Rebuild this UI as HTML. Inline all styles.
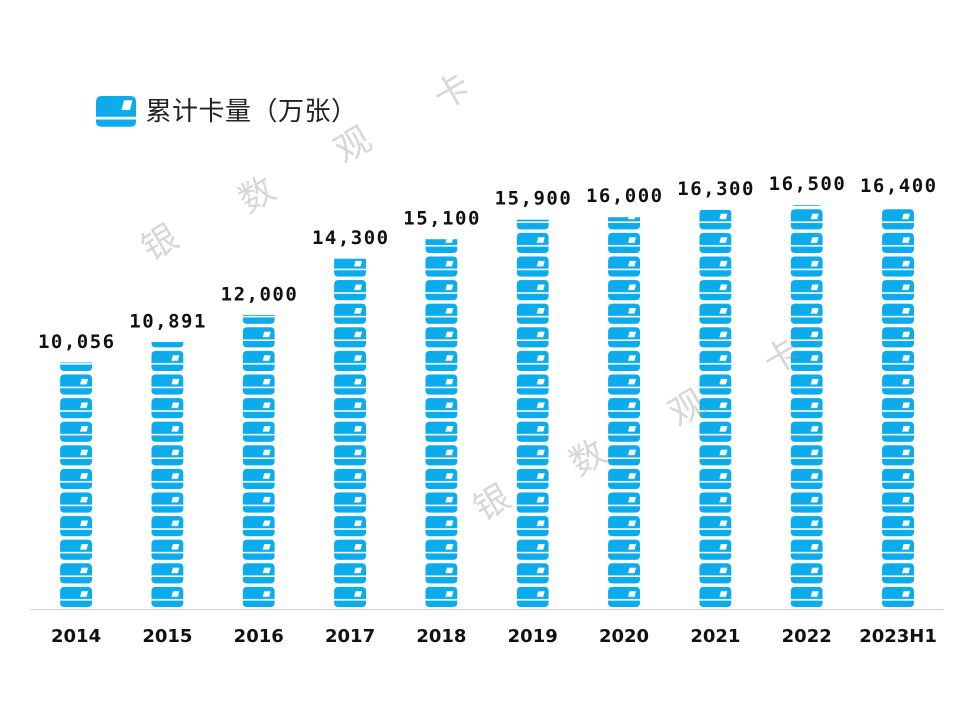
<!DOCTYPE html>
<html><head><meta charset="utf-8">
<style>
html,body{margin:0;padding:0;background:#fff;}
svg{display:block;}
</style></head>
<body>
<svg width="960" height="720" viewBox="0 0 960 720" xmlns="http://www.w3.org/2000/svg">
<defs>
<pattern id="cards" patternUnits="userSpaceOnUse" x="60.07" y="608" width="91.33" height="23.6">
<path d="M0,14.6 V6.9 Q0,2.4 4.5,2.4 H27.5 Q32,2.4 32,6.9 V14.6 Z" fill="#0babec"/>
<path d="M20,12.4 L26.5,12.4 L28,6.9 L21.5,6.9 Z" fill="#fff"/>
<path d="M0,16.2 H32 V18.4 Q32,22.6 27.5,22.6 H4.5 Q0,22.6 0,18.4 Z" fill="#0babec"/>
</pattern>
</defs>
<rect width="960" height="720" fill="#fff"/>

<!-- legend -->
<path d="M96,116.7 V102 Q96,96 102,96 H130 Q136,96 136,102 V116.7 Z" fill="#0babec"/>
<path d="M121.5,110 L130,110 L132.5,100.3 L124,100.3 Z" fill="#fff"/>
<path d="M96,119.5 H136 V121.5 Q136,126.7 131,126.7 H101 Q96,126.7 96,121.5 Z" fill="#0babec"/>
<text x="145.5" y="120" font-family="'Liberation Sans','Noto Sans CJK SC',sans-serif" font-size="26" letter-spacing="0.5" fill="#222">累计卡量（万张）</text>

<!-- bars -->
<g fill="url(#cards)">
<rect x="60.07" y="362.4" width="32" height="245.6"/>
<rect x="151.4" y="342.0" width="32" height="266.0"/>
<rect x="242.73" y="314.9" width="32" height="293.1"/>
<rect x="334.06" y="258.7" width="32" height="349.3"/>
<rect x="425.39" y="239.2" width="32" height="368.8"/>
<rect x="516.72" y="219.7" width="32" height="388.3"/>
<rect x="608.05" y="217.2" width="32" height="390.8"/>
<rect x="699.38" y="209.9" width="32" height="398.1"/>
<rect x="790.71" y="205.0" width="32" height="403.0"/>
<rect x="882.04" y="207.5" width="32" height="400.5"/>
</g>

<!-- axis -->
<line x1="30.4" y1="609.5" x2="943.7" y2="609.5" stroke="#cccccc" stroke-width="1"/>

<!-- value labels -->
<g font-family="'DejaVu Sans Mono','Liberation Mono',monospace" font-weight="bold" font-size="19" fill="#111" text-anchor="middle" letter-spacing="1.5">
<text x="76.8" y="348">10,056</text>
<text x="168.1" y="327.5">10,891</text>
<text x="259.5" y="300.5">12,000</text>
<text x="350.8" y="244">14,300</text>
<text x="442.1" y="224.5">15,100</text>
<text x="533.5" y="204.5">15,900</text>
<text x="624.8" y="202">16,000</text>
<text x="716.1" y="195">16,300</text>
<text x="807.5" y="190">16,500</text>
<text x="898.8" y="192">16,400</text>
</g>

<!-- x labels -->
<g font-family="'DejaVu Sans','Liberation Sans',sans-serif" font-weight="bold" font-size="18" fill="#111" text-anchor="middle">
<text x="76.07" y="642">2014</text>
<text x="167.4" y="642">2015</text>
<text x="258.73" y="642">2016</text>
<text x="350.06" y="642">2017</text>
<text x="441.39" y="642">2018</text>
<text x="532.72" y="642">2019</text>
<text x="624.05" y="642">2020</text>
<text x="715.38" y="642">2021</text>
<text x="806.71" y="642">2022</text>
<text x="898.04" y="642">2023H1</text>
</g>

<!-- watermark -->
<g font-family="'Liberation Sans','Noto Sans CJK SC',sans-serif" font-size="35" fill="#9a9a9a" fill-opacity="0.4" text-anchor="middle" dominant-baseline="central">
<text transform="translate(160,243) rotate(-30)">银</text>
<text transform="translate(257,195) rotate(-30)">数</text>
<text transform="translate(353,145) rotate(-30)">观</text>
<text transform="translate(452,92) rotate(-30)">卡</text>
<text transform="translate(492,503) rotate(-30)">银</text>
<text transform="translate(588,458) rotate(-30)">数</text>
<text transform="translate(687,408) rotate(-30)">观</text>
<text transform="translate(782,357) rotate(-30)">卡</text>
</g>
</svg>
</body></html>
